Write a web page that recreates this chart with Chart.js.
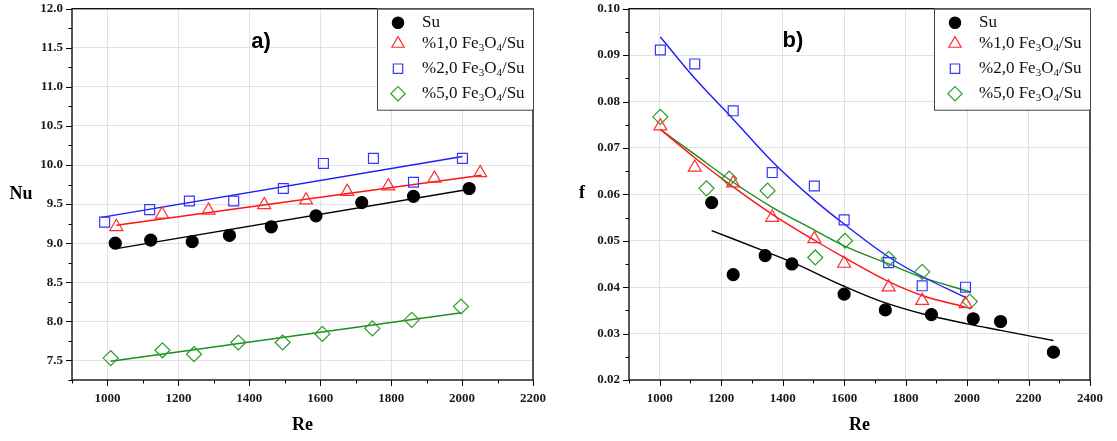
<!DOCTYPE html>
<html>
<head>
<meta charset="utf-8">
<script src="https://cdn.jsdelivr.net/npm/chart.js@4.4.0/dist/chart.umd.min.js"></script>
<style>
    body { margin: 0; background: #fff; }
    #wrap { position: relative; width: 1117px; height: 441px; overflow: hidden; }
    #left { position: absolute; left: 0; top: 0; }
    #right { position: absolute; left: 558px; top: 0; }
</style>
</head>
<body>
<div id="wrap">
    <canvas id="left" width="558" height="441" style="width:558px;height:441px"></canvas>
    <canvas id="right" width="559" height="441" style="width:559px;height:441px"></canvas>
</div>
<script>
const seriesLabels = ["Su", "%1,0 Fe_3O_4/Su", "%2,0 Fe_3O_4/Su", "%5,0 Fe_3O_4/Su"];

// a) Nu vs Re - measured points
const reSuA = [1022, 1122, 1239, 1344, 1462, 1588, 1717, 1863, 2020];
const nuSu = [9.00, 9.04, 9.02, 9.10, 9.21, 9.35, 9.52, 9.60, 9.70];
const reFe1A = [1025, 1154, 1285, 1442, 1560, 1676, 1792, 1922, 2051];
const nuFe1 = [9.21, 9.37, 9.42, 9.49, 9.55, 9.66, 9.73, 9.83, 9.90];
const reFe2A = [992, 1119, 1231, 1356, 1496, 1609, 1750, 1863, 2001];
const nuFe2 = [9.27, 9.43, 9.54, 9.54, 9.70, 10.02, 10.085, 9.78, 10.085];
const reFe5A = [1009, 1155, 1244, 1369, 1494, 1606, 1747, 1858, 1997];
const nuFe5 = [7.53, 7.63, 7.58, 7.73, 7.73, 7.84, 7.91, 8.02, 8.19];

// a) fit lines (end points read from the picture)
const fitReSuA = [1025, 2020];
const fitNuSu = [8.93, 9.69];
const fitReFe1A = [1025, 2055];
const fitNuFe1 = [9.23, 9.87];
const fitReFe2A = [983, 2001];
const fitNuFe2 = [9.33, 10.11];
const fitReFe5A = [1009, 1998];
const fitNuFe5 = [7.49, 8.11];

// b) f vs Re - measured points
const reSuB = [1169, 1239, 1343, 1430, 1600, 1734, 1884, 2020, 2109, 2281];
const fSu = [0.0582, 0.0427, 0.0468, 0.0450, 0.0385, 0.0351, 0.0341, 0.0332, 0.0326, 0.0260];
const reFe1B = [1002, 1114, 1239, 1366, 1503, 1600, 1745, 1854, 1995];
const fFe1 = [0.0747, 0.0658, 0.0624, 0.0550, 0.0504, 0.0451, 0.0400, 0.0371, 0.0364];
const reFe2B = [1002, 1114, 1239, 1366, 1503, 1600, 1745, 1854, 1995];
const fFe2 = [0.0911, 0.0881, 0.0780, 0.0647, 0.0618, 0.0545, 0.0453, 0.0403, 0.0400];
const reFe5B = [1002, 1152, 1226, 1351, 1506, 1603, 1745, 1854, 2009];
const fFe5 = [0.0767, 0.0613, 0.0634, 0.0608, 0.0464, 0.0500, 0.0461, 0.0433, 0.0369];

// b) fit curves (points read along the drawn curves)
const curveReSu = [1169, 1343, 1430, 1600, 1718, 1870, 2000, 2109, 2281];
const curveFSu = [0.0522, 0.0477, 0.0454, 0.0402, 0.0370, 0.0340, 0.0321, 0.0307, 0.0285];
const curveReFe1 = [1002, 1114, 1239, 1366, 1506, 1600, 1745, 1854, 1995];
const curveFFe1 = [0.0740, 0.0679, 0.0616, 0.0557, 0.0500, 0.0464, 0.0412, 0.0382, 0.0357];
const curveReFe2 = [1002, 1114, 1239, 1366, 1506, 1600, 1745, 1854, 1995];
const curveFFe2 = [0.0939, 0.0850, 0.0762, 0.0671, 0.0586, 0.0536, 0.0465, 0.0423, 0.0378];
const curveReFe5 = [1002, 1114, 1239, 1366, 1506, 1600, 1745, 1854, 2011];
const curveFFe5 = [0.0740, 0.0686, 0.0626, 0.0572, 0.0522, 0.0489, 0.0450, 0.0421, 0.0390];

// styles
const markColors = ["#000000", "#ff2e2e", "#3535ff", "#2a9d2a"];
const lineColors = ["#000000", "#ff1414", "#1c1cff", "#1b8f1b"];
const markStyles = ["circle", "triangle", "rect", "rectRot"];
const markRadius = [6, 7.5, 7, 7.5];
const legendRows = [14, 35, 60, 85];
const serif = "'Liberation Serif', 'Times New Roman', serif";

function pts(xs, ys) {
    return xs.map(function (x, i) { return { x: x, y: ys[i] }; });
}

function buildSets(pointX, pointY, fitX, fitY) {
    let sets = [];
    for (let i = 0; i < 4; i++) {
        sets.push({
            label: seriesLabels[i],
            data: pts(pointX[i], pointY[i]),
            showLine: false,
            pointStyle: markStyles[i],
            pointRadius: markRadius[i],
            pointBorderWidth: 1.2,
            pointBorderColor: markColors[i],
            pointBackgroundColor: i === 0 ? "#000" : "rgba(0,0,0,0)",
            order: 1
        });
        sets.push({
            label: "fit",
            data: pts(fitX[i], fitY[i]),
            showLine: true,
            borderColor: lineColors[i],
            borderWidth: 1.4,
            pointRadius: 0,
            cubicInterpolationMode: "monotone",
            order: 2
        });
    }
    return sets;
}

function drawMark(ctx, style, x, y, r, color, filled) {
    ctx.beginPath();
    if (style === "circle") {
        ctx.arc(x, y, r, 0, Math.PI * 2);
    } else if (style === "triangle") {
        for (let k = 0; k < 3; k++) {
            let a = k * 2 * Math.PI / 3;
            let px = x + Math.sin(a) * r, py = y - Math.cos(a) * r;
            if (k === 0) ctx.moveTo(px, py); else ctx.lineTo(px, py);
        }
        ctx.closePath();
    } else if (style === "rect") {
        let s = Math.SQRT1_2 * r;
        ctx.rect(x - s, y - s, 2 * s, 2 * s);
    } else {
        ctx.moveTo(x, y - r); ctx.lineTo(x + r, y); ctx.lineTo(x, y + r); ctx.lineTo(x - r, y);
        ctx.closePath();
    }
    ctx.lineWidth = 1.2;
    ctx.strokeStyle = color;
    if (filled) { ctx.fillStyle = color; ctx.fill(); }
    ctx.stroke();
}

// text like "Fe_3O_4" -> subscripts after "_"
function drawRich(ctx, str, x, y) {
    let cx = x;
    for (let i = 0; i < str.length; i++) {
        let ch = str[i];
        if (ch === "_") {
            ch = str[++i];
            ctx.font = "11px " + serif;
            ctx.fillText(ch, cx, y + 4);
        } else {
            ctx.font = "17px " + serif;
            ctx.fillText(ch, cx, y);
        }
        cx += ctx.measureText(ch).width;
    }
}

const decor = {
    id: "decor",
    afterDraw(chart, args, opts) {
        const ctx = chart.ctx;
        const a = chart.chartArea;
        ctx.save();

        // tick marks, major longer than minor
        ctx.strokeStyle = "#000";
        ctx.lineWidth = 1;
        const xs = chart.scales.x, ys = chart.scales.y;
        xs.ticks.forEach(function (t) {
            let p = Math.round(xs.getPixelForValue(t.value)) + 0.5;
            let len = opts.xMajor(t.value) ? 6 : 3.5;
            ctx.beginPath(); ctx.moveTo(p, a.bottom); ctx.lineTo(p, a.bottom + len); ctx.stroke();
        });
        ys.ticks.forEach(function (t) {
            let p = Math.round(ys.getPixelForValue(t.value)) + 0.5;
            let len = opts.yMajor(t.value) ? 6 : 3.5;
            ctx.beginPath(); ctx.moveTo(a.left, p); ctx.lineTo(a.left - len, p); ctx.stroke();
        });

        // frame
        ctx.lineWidth = 1.4;
        ctx.strokeStyle = "#111";
        ctx.strokeRect(a.left, a.top, a.right - a.left, a.bottom - a.top);

        // panel letter
        ctx.fillStyle = "#000";
        ctx.textAlign = "center";
        ctx.textBaseline = "middle";
        ctx.font = "bold 22px 'Liberation Sans', Arial, sans-serif";
        ctx.fillText(opts.panel, opts.panelX, opts.panelY);

        // axis titles
        ctx.font = "bold 18px " + serif;
        ctx.fillText(opts.xTitle, (a.left + a.right) / 2, 425);
        ctx.fillText(opts.yTitle, opts.yTitleX, opts.yTitleY);

        // legend box
        const bw = 156, bh = 101;
        const bx = a.right - bw, by = a.top;
        ctx.fillStyle = "#fff";
        ctx.fillRect(bx, by, bw, bh);
        ctx.lineWidth = 1;
        ctx.strokeStyle = "#444";
        ctx.strokeRect(bx + 0.5, by + 0.5, bw, bh);
        ctx.textAlign = "left";
        ctx.textBaseline = "middle";
        for (let i = 0; i < 4; i++) {
            let ry = by + legendRows[i];
            drawMark(ctx, markStyles[i], bx + 21, ry, markRadius[i] * 0.95, markColors[i], i === 0);
            ctx.fillStyle = "#111";
            drawRich(ctx, seriesLabels[i], bx + 45, ry);
        }
        ctx.restore();
    }
};

function axis(min, max, step, isMajor, fmt, pad, size, horizontal) {
    return {
        type: "linear",
        min: min,
        max: max,
        afterFit: function (s) {
            if (horizontal) { s.height = size; s.paddingLeft = 0; s.paddingRight = 0; }
            else { s.width = size; s.paddingTop = 0; s.paddingBottom = 0; }
        },
        ticks: {
            stepSize: step,
            autoSkip: false,
            maxRotation: 0,
            padding: pad,
            color: "#1a1a1a",
            font: { family: serif, weight: "bold", size: 13 },
            callback: function (v) { return isMajor(v) ? fmt(v) : ""; }
        },
        grid: {
            drawTicks: false,
            lineWidth: 1,
            color: function (c) {
                return c.tick && isMajor(c.tick.value) ? "#e2e2e2" : "rgba(0,0,0,0)";
            }
        },
        border: { display: false }
    };
}

function makeChart(id, sets, xAxis, yAxis, padRight, deco) {
    return new Chart(document.getElementById(id), {
        type: "scatter",
        data: { datasets: sets },
        options: {
            responsive: false,
            animation: false,
            devicePixelRatio: 1,
            layout: { padding: { left: 0, top: 7, right: padRight, bottom: 0 } },
            plugins: {
                legend: { display: false },
                tooltip: { enabled: false },
                decor: deco
            },
            scales: { x: xAxis, y: yAxis }
        },
        plugins: [decor]
    });
}

function isRe200(v) { return Math.abs(v / 200 - Math.round(v / 200)) < 1e-6; }
function isNuMajor(v) { return Math.abs(v * 2 - Math.round(v * 2)) < 1e-6; }
function isFMajor(v) { return Math.abs(v * 100 - Math.round(v * 100)) < 1e-6; }

makeChart("left",
    buildSets([reSuA, reFe1A, reFe2A, reFe5A], [nuSu, nuFe1, nuFe2, nuFe5],
        [fitReSuA, fitReFe1A, fitReFe2A, fitReFe5A], [fitNuSu, fitNuFe1, fitNuFe2, fitNuFe5]),
    axis(900, 2200, 100, isRe200, function (v) { return String(v); }, 11, 61, true),
    axis(7.25, 12, 0.25, isNuMajor, function (v) { return v.toFixed(1); }, 9, 72, false),
    25,
    { panel: "a)", panelX: 261, panelY: 42, xTitle: "Re", yTitle: "Nu", yTitleX: 21, yTitleY: 194,
      xMajor: isRe200, yMajor: isNuMajor });

makeChart("right",
    buildSets([reSuB, reFe1B, reFe2B, reFe5B], [fSu, fFe1, fFe2, fFe5],
        [curveReSu, curveReFe1, curveReFe2, curveReFe5], [curveFSu, curveFFe1, curveFFe2, curveFFe5]),
    axis(900, 2400, 100, isRe200, function (v) { return String(v); }, 11, 61, true),
    axis(0.02, 0.10, 0.005, isFMajor, function (v) { return v.toFixed(2); }, 9, 71, false),
    27,
    { panel: "b)", panelX: 235, panelY: 41, xTitle: "Re", yTitle: "f", yTitleX: 24, yTitleY: 193,
      xMajor: isRe200, yMajor: isFMajor });
</script>
</body>
</html>
